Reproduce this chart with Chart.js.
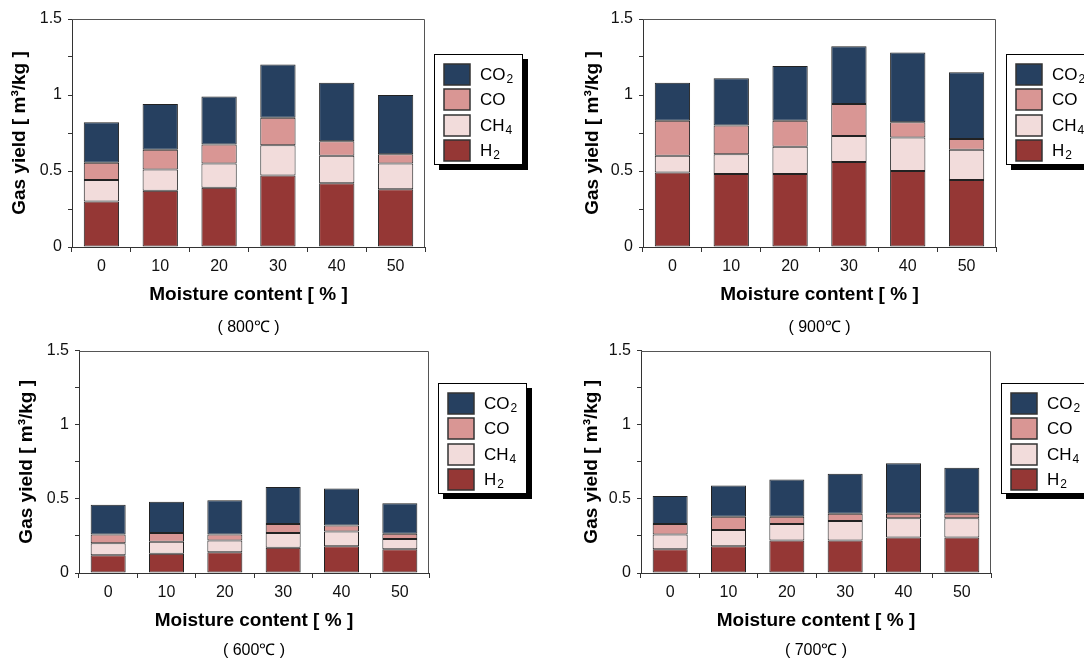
<!DOCTYPE html>
<html>
<head>
<meta charset="utf-8">
<script src="https://cdn.jsdelivr.net/npm/chart.js@4.4.1/dist/chart.umd.min.js"></script>
<style>
body { margin: 0; background: #fff; }
#wrap { position: relative; width: 1084px; height: 663px; overflow: hidden; }
canvas { position: absolute; }
</style>
</head>
<body>
<div id="wrap">
  <canvas id="c800" width="540" height="335" style="left:0px;top:0px"></canvas>
  <canvas id="c900" width="544" height="335" style="left:540px;top:0px"></canvas>
  <canvas id="c600" width="540" height="328" style="left:0px;top:335px"></canvas>
  <canvas id="c700" width="544" height="328" style="left:540px;top:335px"></canvas>
</div>
<script>
// moisture content categories [%]
const moisture = ['0', '10', '20', '30', '40', '50'];

// gas yields [m3/kg]
const h2_800  = [0.30, 0.37, 0.39, 0.47, 0.42, 0.38];
const ch4_800 = [0.14, 0.14, 0.16, 0.20, 0.18, 0.17];
const co_800  = [0.115, 0.13, 0.125, 0.18, 0.095, 0.06];
const co2_800 = [0.265, 0.30, 0.315, 0.35, 0.385, 0.39];

const h2_900  = [0.49, 0.48, 0.48, 0.56, 0.50, 0.44];
const ch4_900 = [0.11, 0.13, 0.18, 0.17, 0.22, 0.20];
const co_900  = [0.23, 0.19, 0.17, 0.21, 0.10, 0.07];
const co2_900 = [0.25, 0.31, 0.36, 0.38, 0.46, 0.44];

const h2_600  = [0.12, 0.13, 0.14, 0.17, 0.18, 0.16];
const ch4_600 = [0.08, 0.08, 0.08, 0.10, 0.10, 0.07];
const co_600  = [0.06, 0.06, 0.04, 0.06, 0.04, 0.035];
const co2_600 = [0.20, 0.21, 0.23, 0.25, 0.25, 0.205];

const h2_700  = [0.16, 0.18, 0.22, 0.22, 0.24, 0.24];
const ch4_700 = [0.10, 0.11, 0.11, 0.13, 0.13, 0.13];
const co_700  = [0.07, 0.09, 0.05, 0.05, 0.03, 0.03];
const co2_700 = [0.19, 0.21, 0.25, 0.27, 0.34, 0.31];

const yLabels = ['0', '0.5', '1', '1.5'];

const FONT = '"Liberation Sans", Arial, sans-serif';
Chart.defaults.font.family = FONT;
Chart.defaults.color = '#000';

const colors = { H2: '#953735', CH4: '#f2dcdb', CO: '#d99694', CO2: '#264060' };

// frame, legend box and the temperature caption
const panelDeco = {
    id: 'panelDeco',
    afterDraw(chart, args, opts) {
        const ctx = chart.ctx;
        const a = chart.chartArea;
        ctx.save();

        ctx.strokeStyle = '#555';
        ctx.lineWidth = 1;
        ctx.beginPath();
        ctx.moveTo(Math.round(a.left), Math.round(a.top) + 0.5);
        ctx.lineTo(Math.round(a.right) - 0.5, Math.round(a.top) + 0.5);
        ctx.lineTo(Math.round(a.right) - 0.5, Math.round(a.bottom));
        ctx.stroke();

        const lx = opts.x, ly = opts.y, lw = 89, lh = 111;
        ctx.fillStyle = '#000';
        ctx.fillRect(lx + 5, ly + 5, lw, lh);
        ctx.fillStyle = '#fff';
        ctx.fillRect(lx, ly, lw, lh);
        ctx.strokeStyle = '#000';
        ctx.strokeRect(lx + 0.5, ly + 0.5, lw - 1, lh - 1);

        chart.data.datasets.slice().reverse().forEach((ds, i) => {
            const sy = Math.round(ly + 10 + i * 25.3);
            ctx.fillStyle = ds.backgroundColor;
            ctx.fillRect(lx + 10, sy, 26, 21);
            ctx.strokeStyle = '#333';
            ctx.lineWidth = 1.5;
            ctx.strokeRect(lx + 10, sy, 26, 21);

            const m = ds.label.match(/^(\D+)(\d*)$/);
            ctx.fillStyle = '#000';
            ctx.textAlign = 'left';
            ctx.textBaseline = 'middle';
            ctx.font = '17px ' + FONT;
            ctx.fillText(m[1], lx + 46, sy + 11);
            if (m[2]) {
                const w = ctx.measureText(m[1]).width;
                ctx.font = '12px ' + FONT;
                ctx.fillText(m[2], lx + 46 + w + 1, sy + 16);
            }
        });

        ctx.font = '16px ' + FONT;
        ctx.textAlign = 'center';
        ctx.textBaseline = 'middle';
        ctx.fillStyle = '#000';
        ctx.fillText(opts.caption, (a.left + a.right) / 2, a.bottom + opts.captionDy);
        ctx.restore();
    }
};

function makePanel(id, temp, h2, ch4, co, co2, lay) {
    new Chart(document.getElementById(id), {
        type: 'bar',
        data: {
            labels: moisture,
            datasets: [
                { label: 'H2', data: h2, backgroundColor: colors.H2 },
                { label: 'CH4', data: ch4, backgroundColor: colors.CH4 },
                { label: 'CO', data: co, backgroundColor: colors.CO },
                { label: 'CO2', data: co2, backgroundColor: colors.CO2 }
            ]
        },
        options: {
            responsive: false,
            animation: false,
            devicePixelRatio: 1,
            datasets: {
                bar: {
                    borderColor: '#222',
                    borderWidth: 1,
                    borderSkipped: false,
                    barPercentage: 0.6,
                    categoryPercentage: 1
                }
            },
            layout: { padding: { left: 0, top: lay.top, right: lay.right, bottom: lay.bottom } },
            plugins: {
                legend: { display: false },
                tooltip: { enabled: false },
                panelDeco: { x: lay.legendX, y: lay.legendY, caption: '( ' + temp + '℃ )', captionDy: lay.captionDy }
            },
            scales: {
                x: {
                    stacked: true,
                    afterFit: (s) => { s.height = 60; },
                    border: { display: true, color: '#333', width: 1 },
                    grid: { offset: true, drawOnChartArea: false, drawTicks: true, tickLength: 5, color: '#333' },
                    ticks: { font: { size: 16 }, padding: 5, maxRotation: 0, autoSkip: false, color: '#111' },
                    title: {
                        display: true,
                        text: 'Moisture content [ % ]',
                        font: { size: 19, weight: 'bold' },
                        padding: { top: 0, bottom: 1 }
                    }
                },
                y: {
                    stacked: true,
                    min: 0,
                    max: 1.5,
                    afterFit: (s) => { s.width = lay.yWidth; },
                    border: { display: true, color: '#333', width: 1 },
                    grid: { drawOnChartArea: false, drawTicks: true, tickLength: 4, color: '#333' },
                    ticks: {
                        stepSize: 0.25,
                        padding: 6,
                        font: { size: 16 },
                        color: '#111',
                        callback: (v) => (v * 2) % 1 === 0 ? yLabels[v * 2] : ''
                    },
                    title: {
                        display: true,
                        text: 'Gas yield [ m³/kg ]',
                        font: { size: 19, weight: 'bold' },
                        padding: { top: lay.yTitlePad, bottom: 0 }
                    }
                }
            }
        },
        plugins: [panelDeco]
    });
}

makePanel('c800', 800, h2_800, ch4_800, co_800, co2_800,
    { top: 19, right: 115, bottom: 28, yWidth: 72, yTitlePad: 8, legendX: 434, legendY: 54, captionDy: 81 });
makePanel('c900', 900, h2_900, ch4_900, co_900, co2_900,
    { top: 19, right: 88, bottom: 28, yWidth: 103, yTitlePad: 41, legendX: 466, legendY: 54, captionDy: 81 });
makePanel('c600', 600, h2_600, ch4_600, co_600, co2_600,
    { top: 14, right: 111, bottom: 30, yWidth: 79, yTitlePad: 15, legendX: 438, legendY: 48, captionDy: 78 });
makePanel('c700', 700, h2_700, ch4_700, co_700, co2_700,
    { top: 14, right: 93, bottom: 30, yWidth: 101, yTitlePad: 40, legendX: 461, legendY: 48, captionDy: 78 });
</script>
</body>
</html>
